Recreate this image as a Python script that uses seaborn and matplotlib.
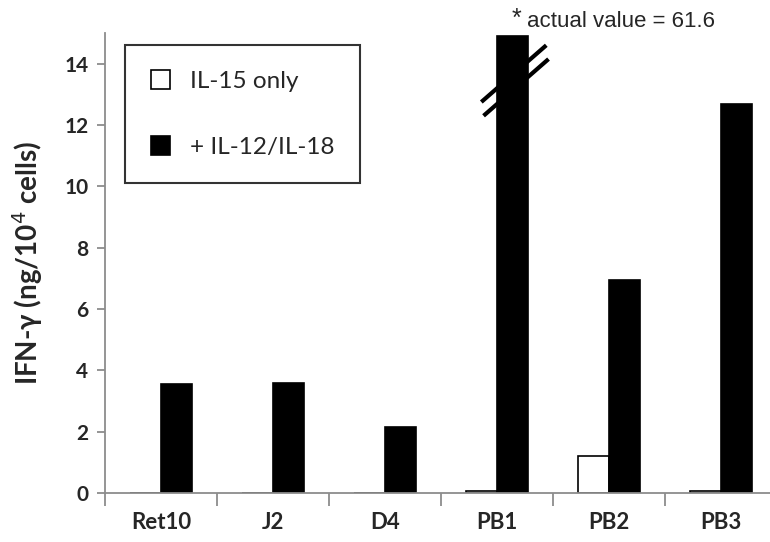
import matplotlib
matplotlib.use('Agg')
import numpy as np
import pandas as pd
import matplotlib.pyplot as plt
import seaborn as sns

# data
cell_lines = ["Ret10", "J2", "D4", "PB1", "PB2", "PB3"]
il15_only = [0.0, 0.0, 0.0, 0.08, 1.2, 0.08]
il12_il18 = [3.55, 3.6, 2.15, 61.6, 6.95, 12.7]
series_names = ["IL-15 only", "+ IL-12/IL-18"]
y_ticks = [0, 2, 4, 6, 8, 10, 12, 14]
y_top = 15
bar_cap = 14.9  # broken bar is drawn up to this height

df = pd.DataFrame({
    "line": cell_lines * 2,
    "treatment": [series_names[0]] * len(cell_lines) + [series_names[1]] * len(cell_lines),
    "ifn": il15_only + il12_il18,
})
df["shown"] = np.minimum(df["ifn"], bar_cap)

sns.set_style("white")
plt.rcParams['font.family'] = ['Lato', 'DejaVu Sans']

fig = plt.figure(figsize=(7.7, 5.42), dpi=100)
ax = fig.add_axes([105 / 770, 1 - 493 / 542, 672 / 770, 460 / 542])

sns.barplot(data=df, x="line", y="shown", hue="treatment", order=cell_lines,
            hue_order=series_names, palette=["white", "black"], width=0.56, gap=0,
            edgecolor="black", linewidth=1.2, errorbar=None, ax=ax)

ax.set_xlim(-0.5, 5.5)
ax.set_ylim(0, y_top)
ax.set_yticks(y_ticks)
ax.set_xlabel("")
ax.set_ylabel("IFN-γ (ng/10$^4$ cells)", fontsize=20, fontweight="bold", labelpad=14)

gray = "#8c8c8c"
for side in ["top", "right"]:
    ax.spines[side].set_visible(False)
for side in ["left", "bottom"]:
    ax.spines[side].set_color(gray)
    ax.spines[side].set_linewidth(1.3)

ax.set_xticks(np.arange(-0.5, 6, 1), minor=True)
ax.tick_params(axis="x", which="major", length=0, pad=14, labelsize=16)
ax.tick_params(axis="x", which="minor", length=9, width=1.3, color=gray, direction="out")
ax.tick_params(axis="y", length=6, width=1.3, color=gray, direction="out", labelsize=15, pad=6)
ax.tick_params(bottom=True, left=True, which="both")
for lab in ax.get_xticklabels() + ax.get_yticklabels():
    lab.set_fontweight("bold")

# axis-break marks on the PB1 bar
bx = [2.86, 3.44]
ax.plot(bx, [12.75, 14.6], color="black", lw=3, solid_capstyle="butt", zorder=5)
ax.plot([bx[0] + 0.02, bx[1] + 0.02], [12.3, 14.15], color="black", lw=3,
        solid_capstyle="butt", zorder=5)

ax.text(3.13, 15.45, "*", fontsize=18, family="Liberation Sans",
        ha="left", va="center", clip_on=False)
ax.text(3.27, 15.36, "actual value = 61.6", fontsize=16, family="Liberation Sans",
        ha="left", va="center", clip_on=False)

leg = ax.legend(loc="upper left", bbox_to_anchor=(0.03, 0.974), borderaxespad=0,
                frameon=True, fancybox=False, fontsize=17.5, labelspacing=1.8,
                borderpad=1.05, handlelength=0.8, handleheight=0.8, handletextpad=0.8)
leg.get_frame().set_edgecolor("black")
leg.get_frame().set_linewidth(1.5)

fig.savefig("out.png", dpi=100)
